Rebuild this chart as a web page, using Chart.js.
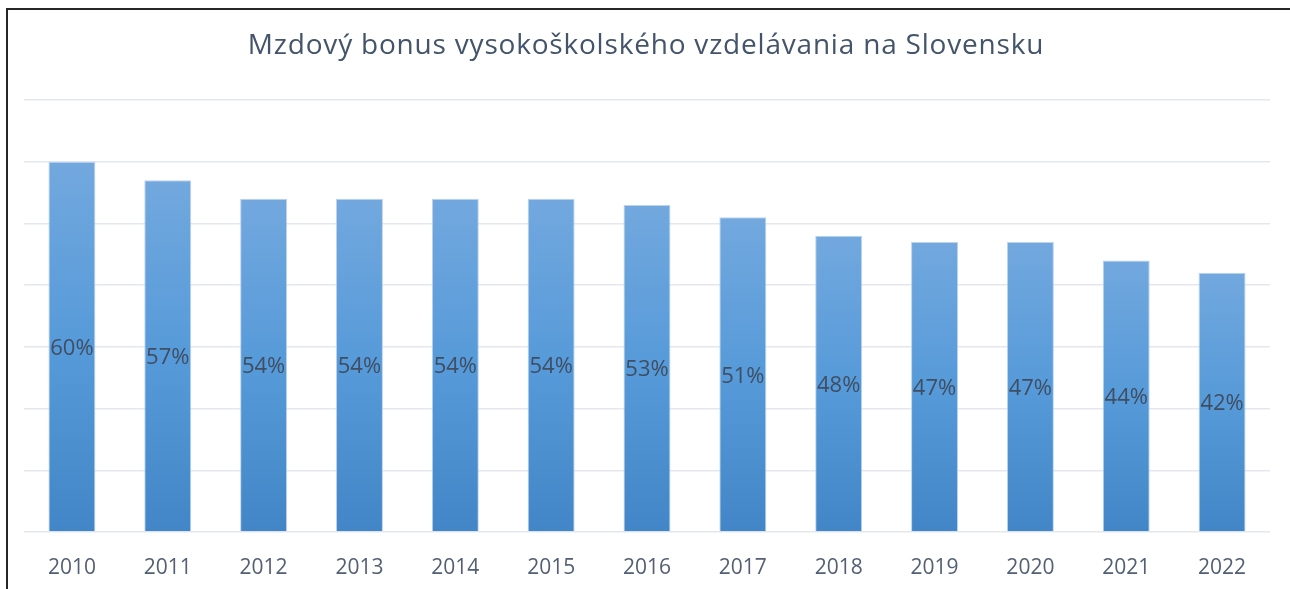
<!DOCTYPE html>
<html>
<head>
<meta charset="utf-8">
<script src="https://cdn.jsdelivr.net/npm/chart.js@4/dist/chart.umd.min.js"></script>
<style>
  html, body { margin: 0; padding: 0; background: #fff; overflow: hidden; width: 1290px; height: 589px; }
  canvas { display: block; }
</style>
</head>
<body>
<canvas id="c" width="1290" height="589"></canvas>
<script>
const titleText = 'Mzdový bonus vysokoškolského vzdelávania na Slovensku';
const years = ['2010','2011','2012','2013','2014','2015','2016','2017','2018','2019','2020','2021','2022'];
const bonusPct = [60, 57, 54, 54, 54, 54, 53, 51, 48, 47, 47, 44, 42];
const yTicks = [0, 10, 20, 30, 40, 50, 60, 70];

const FONT = "'Open Sans', 'Liberation Sans', sans-serif";

function barGradient(ctx) {
  const chart = ctx.chart;
  const area = chart.chartArea;
  if (!area || ctx.type !== 'data') return '#5b9bd5';
  const y = chart.scales.y;
  const top = y.getPixelForValue(ctx.parsed ? ctx.parsed.y : ctx.raw);
  const bottom = y.getPixelForValue(0);
  const g = chart.ctx.createLinearGradient(0, top, 0, bottom);
  g.addColorStop(0, '#72a8de');
  g.addColorStop(0.5, '#569ad9');
  g.addColorStop(1, '#4386c7');
  return g;
}

const framePlugin = {
  id: 'frame',
  beforeDraw(chart) {
    const { ctx } = chart;
    ctx.save();
    ctx.fillStyle = '#ffffff';
    ctx.fillRect(0, 0, chart.width, chart.height);
    ctx.strokeStyle = '#262626';
    ctx.lineWidth = 2;
    ctx.beginPath();
    ctx.moveTo(7, chart.height + 2);
    ctx.lineTo(7, 9);
    ctx.lineTo(chart.width + 2, 9);
    ctx.stroke();
    ctx.restore();
  }
};

const titlePlugin = {
  id: 'customTitle',
  afterDraw(chart) {
    const { ctx } = chart;
    ctx.save();
    ctx.font = "28px " + FONT;
    try { ctx.letterSpacing = '0.8px'; } catch (e) {}
    ctx.fillStyle = '#44546a';
    ctx.textAlign = 'center';
    ctx.textBaseline = 'middle';
    ctx.fillText(titleText, 646, 46);
    ctx.restore();
  }
};

const labelPlugin = {
  id: 'centerLabels',
  afterDatasetsDraw(chart) {
    const { ctx } = chart;
    const meta = chart.getDatasetMeta(0);
    ctx.save();
    ctx.font = "22px " + FONT;
    ctx.fillStyle = '#3f4e62';
    ctx.textAlign = 'center';
    ctx.textBaseline = 'middle';
    meta.data.forEach((bar, i) => {
      const v = chart.data.datasets[0].data[i];
      const cy = (bar.y + bar.base) / 2 + 2;
      ctx.fillText(v + '%', bar.x, cy);
    });
    ctx.restore();
  }
};

new Chart(document.getElementById('c'), {
  type: 'bar',
  data: {
    labels: years,
    datasets: [{
      data: bonusPct,
      backgroundColor: barGradient,
      borderColor: 'rgba(170,200,235,0.8)',
      borderWidth: 1,
      categoryPercentage: 1.0,
      barPercentage: 0.49
    }]
  },
  options: {
    responsive: false,
    animation: false,
    devicePixelRatio: 1,
    layout: { padding: { left: 24, right: 20, top: 100, bottom: 0 } },
    plugins: {
      legend: { display: false },
      tooltip: { enabled: false },
      title: { display: false }
    },
    scales: {
      x: {
        grid: { display: false, drawTicks: false },
        border: { display: false },
        ticks: { color: '#536073', font: { family: FONT, size: 21 }, padding: 23, maxRotation: 0 },
        afterFit(scale) { scale.height = 57; }
      },
      y: {
        min: 0,
        max: 70,
        afterBuildTicks(scale) { scale.ticks = yTicks.map(v => ({ value: v })); },
        ticks: { display: false },
        grid: { color: '#e4e8ee', lineWidth: 1.5, drawTicks: false },
        border: { display: false },
        afterFit(scale) { scale.width = 0; }
      }
    }
  },
  plugins: [framePlugin, labelPlugin, titlePlugin]
});
</script>
</body>
</html>
